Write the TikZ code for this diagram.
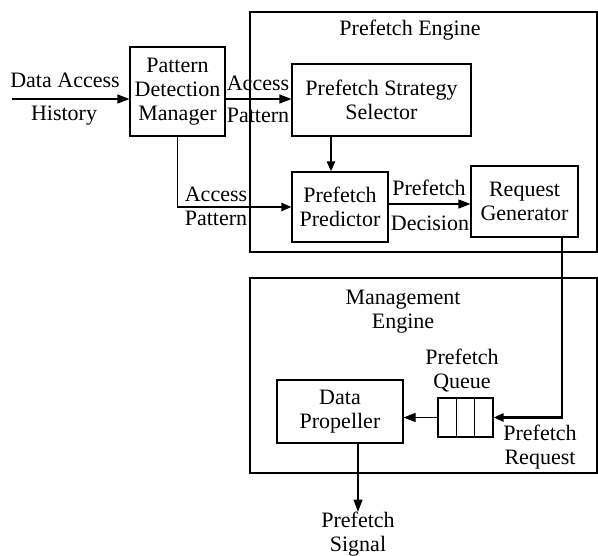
\documentclass[tikz,border=0pt]{standalone}
\usepackage{fontspec}
\setmainfont{Liberation Serif}
\usetikzlibrary{arrows.meta,calc}
\tikzset{
  blk/.style={draw,line width=1.1pt,align=center,inner sep=2pt},
  grp/.style={draw,line width=1.1pt},
  lbl/.style={align=center,inner sep=0pt},
  ln/.style={line width=1.1pt},
  ar/.style={line width=1.1pt,-{Triangle[length=12pt,width=9pt]}},
  arb/.style={line width=2.2pt,-{Triangle[length=10pt,width=8pt]}},
  cell/.style={line width=1.1pt}
}

\begin{document}
\begin{tikzpicture}[x=1pt,y=-1pt,font=\fontsize{22}{24}\selectfont]
\useasboundingbox (0,0) rectangle (598,556);
% the two engine frames
\node[grp,minimum width=347pt,minimum height=240pt] (pe) at (423.5,132) {};
\node[grp,minimum width=347pt,minimum height=195pt] (me) at (423.5,375.5) {};
\node[lbl] (pet) at (410,30) {Prefetch Engine};
\node[lbl] (met) at (403,312) {Management\\Engine};

% blocks
\node[blk,minimum width=95pt,minimum height=89pt] (pdm) at (177.5,91.5) {Pattern\\Detection\\Manager};
\node[blk,minimum width=179pt,minimum height=72pt] (pss) at (381.5,100) {Prefetch Strategy\\Selector};
\node[blk,minimum width=96pt,minimum height=70pt] (pp) at (340,207) {Prefetch\\Predictor};
\node[blk,minimum width=107pt,minimum height=71pt] (rg) at (524.5,201.5) {Request\\Generator};
\node[blk,minimum width=126pt,minimum height=63pt] (dp) at (340,411.5) {Data\\Propeller};
\node[draw,line width=1.1pt,minimum width=55pt,minimum height=39pt,inner sep=0pt] (pq) at (465.5,417.5) {};
\draw[cell] ($(pq.north west)!1/3!(pq.north east)$) -- ($(pq.south west)!1/3!(pq.south east)$);
\draw[cell] ($(pq.north west)!2/3!(pq.north east)$) -- ($(pq.south west)!2/3!(pq.south east)$);

% labels
\node[lbl] (dah) at (65,80) {Data Access};
\node[lbl] (hist) at (64,116) {History};
\node[lbl] (ac1) at (258,83) {Access};
\node[lbl] (pa1) at (258,115) {Pattern};
\node[lbl] (ac2) at (216,194) {Access};
\node[lbl] (pa2) at (216,218) {Pattern};
\node[lbl] (pf1) at (429,188) {Prefetch};
\node[lbl] (dec) at (430,223) {Decision};
\node[lbl] (pql) at (462,371) {Prefetch\\Queue};
\node[lbl] (prq) at (540,447) {Prefetch\\Request};
\node[lbl] (sig) at (358,534) {Prefetch\\Signal};
\coordinate (in) at (12,99);
\coordinate (bend1) at (pdm.south |- pp.west);
\coordinate (bend2) at ([xshift=37.5pt]rg.south |- pq.east);

% connectors
\draw[ar] (in) -- (in -| pdm.west);
\draw[ar] (pdm.east |- in) -- (in -| pss.west);
\draw[ln] (pdm.south) -- (bend1);
\draw[arb] ([xshift=-1pt]bend1) -- (pp.west);
\draw[arb] ([xshift=-9pt]pp.north |- pss.south) -- ([xshift=-9pt]pp.north);
\draw[ar] ([yshift=3pt]pp.east) -- ([yshift=3pt]pp.east -| rg.west);
\draw[ln] ([xshift=37.5pt]rg.south) -- (bend2);
\draw[arb] ([xshift=1pt]bend2) -- (pq.east);
\draw[ar] (pq.west) -- (pq.west -| dp.east);
\draw[ar] (sig.north |- dp.south) -- (sig.north);
\end{tikzpicture}
\end{document}
